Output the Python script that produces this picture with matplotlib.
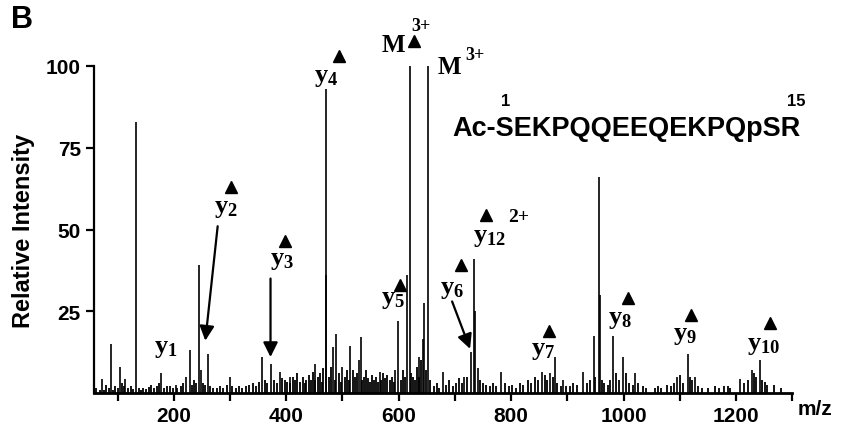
import matplotlib
matplotlib.use("Agg")
import matplotlib.pyplot as plt

plt.rcParams['font.family'] = ['Liberation Sans', 'DejaVu Sans']
plt.rcParams['mathtext.fontset'] = 'custom'
plt.rcParams['mathtext.rm'] = 'Liberation Serif:bold'
plt.rcParams['mathtext.it'] = 'Liberation Serif:bold'
plt.rcParams['mathtext.bf'] = 'Liberation Serif:bold'

# main fragment peaks (m/z, relative intensity)
peak_mz = [73, 88, 104, 114, 132, 178, 203, 222, 228, 244, 248, 260, 300, 357, 372,
           388, 407, 452, 470, 471, 484, 489, 500, 514, 530, 533, 567, 594, 599, 615,
           620, 636, 643, 645, 652, 679, 716, 729, 734, 736, 741, 782, 855, 869, 878,
           892, 928, 947, 956, 958, 981, 999, 1020, 1095, 1114, 1128, 1208, 1228, 1242]
peak_int = [4.3, 15, 8, 4.3, 83, 6, 2.5, 5, 13, 39, 7, 12, 5, 11, 9,
            6.5, 5, 9, 36, 93, 14, 18, 8, 14.5, 10, 17, 6.5, 7, 22, 36,
            100, 11, 16.5, 27.5, 100, 6.5, 5, 12.5, 41, 25, 7.5, 6.5, 6.5, 6, 11,
            4, 6.5, 17.5, 66, 30, 17.5, 11, 6, 5, 12, 5, 4.3, 7, 10]

# small background peaks
noise_mz = [62, 68, 75, 80, 84, 92, 96, 100, 108, 111, 118, 123, 128, 138, 142, 146,
            150, 155, 160, 165, 170, 174, 182, 188, 194, 198,
            206, 212, 216, 232, 236, 240, 252, 256, 265, 270, 276, 282, 288, 294, 304,
            310, 316, 322, 328, 334, 340, 346, 352, 362, 366, 378, 384, 392,
            398, 402, 406, 412, 416, 420, 425, 430, 433, 436, 440, 444, 448, 452, 456,
            460, 463, 466, 476, 480, 486, 494, 498, 504, 508, 511, 518, 522, 526, 535,
            538, 542, 546, 549, 552, 556, 560, 564, 569, 572, 576, 580, 584, 588, 591,
            604, 608, 612, 622, 626, 629, 632, 636, 640, 648, 656,
            662, 668, 672, 684, 690, 696, 702, 708, 712, 722, 745, 750, 756, 762, 768,
            774, 790, 796, 802, 808, 816, 822, 830, 836, 842, 848, 860, 864, 874, 882,
            888, 898,
            904, 910, 918, 935, 940, 950, 962, 966, 972, 976, 986, 992, 1004, 1010,
            1016, 1026, 1034, 1040,
            1056, 1062, 1066, 1078, 1084, 1090, 1100, 1106, 1118, 1122, 1132, 1140,
            1150, 1162, 1170, 1178, 1186, 1190, 1215, 1222, 1232, 1236, 1246, 1252,
            1256, 1268, 1280]
noise_int = [1.5, 1, 1, 2.5, 1.5, 1, 2, 1.5, 3, 2, 1.5, 2, 1.2, 1.5, 1, 1.5,
             1.2, 1.8, 2.5, 1.5, 2, 3, 1.5, 2, 2, 1.5,
             1.5, 2, 3, 2.5, 4, 3, 3, 2.5, 2, 1.5, 1.5, 2, 1.5, 2.5, 2,
             1.5, 2, 1.5, 2, 2.5, 3, 2, 3.5, 4, 3, 4, 3, 4.5,
             4, 3.5, 3, 5, 4, 6, 3.5, 5, 3, 4, 5.5, 4, 6.5, 4, 5,
             6, 3.5, 7.5, 5, 8, 4, 6, 3.5, 5, 7, 4, 7, 5, 6, 4,
             5, 7, 4.5, 3.5, 5.5, 4, 5, 3.5, 4, 6, 4.5, 5.5, 4, 5, 3.5,
             4, 7, 5, 6, 5, 4, 8, 5, 10, 7, 4,
             2, 3, 1.5, 2.5, 4, 2, 3, 4.5, 3, 5, 4, 3, 2.5, 2, 3,
             2, 3, 2, 2.5, 1.5, 3, 2.5, 4, 3, 5, 4, 5.5, 4, 5, 3,
             2, 2,
             2, 3, 2.5, 3, 4, 5, 4, 3, 2.5, 4, 6, 4, 6, 3,
             2.5, 3, 2, 1.5,
             1.5, 2, 1.5, 2.5, 2, 3, 5.5, 3, 5, 4, 2, 1.5,
             1.5, 2, 1.5, 2, 2, 1.5, 3, 4, 6, 5, 4, 3.5,
             2.5, 2.5, 1.5]

y_ticks = [25, 50, 75, 100]
x_major = [200, 400, 600, 800, 1000, 1200]
x_minor = [100, 300, 500, 700, 900, 1100, 1300]

fig = plt.figure(figsize=(8.41, 4.39), dpi=100)
ax = fig.add_axes([94 / 841, 1 - 394 / 439, 701 / 841, 327 / 439])

ax.vlines(noise_mz, 0, noise_int, color='black', lw=1.3)
ax.vlines(peak_mz, 0, peak_int, color='black', lw=1.2)

ax.set_xlim(58, 1305)
ax.set_ylim(0, 100)
ax.spines['top'].set_visible(False)
ax.spines['right'].set_visible(False)
ax.spines['left'].set_linewidth(1.6)
ax.spines['bottom'].set_linewidth(2.0)
ax.spines['bottom'].set_bounds(58, 1300)

ax.set_yticks(y_ticks)
ax.set_xticks(x_major)
ax.set_xticks(x_minor, minor=True)
ax.tick_params(axis='both', which='both', direction='out', length=6, width=1.6,
               labelsize=15)
for lab in ax.get_xticklabels() + ax.get_yticklabels():
    lab.set_fontweight('bold')

ax.set_ylabel('Relative Intensity', fontsize=17, fontweight='bold', labelpad=8)
fig.text(815 / 841, 1 - 410 / 439, 'm/z', fontsize=15, fontweight='bold',
         ha='center', va='center')
fig.text(22 / 841, 1 - 20 / 439, 'B', fontsize=22, fontweight='bold',
         ha='center', va='center')

# ion labels: (text, x, y, triangle x, triangle y)
labels = [
    (r'$\mathrm{y_1}$', 185, 14, None, None),
    (r'$\mathrm{y_2}$', 292, 57, 302, 63),
    (r'$\mathrm{y_3}$', 393, 41, 398, 46.5),
    (r'$\mathrm{y_4}$', 471, 97, 493, 103),
    (r'$\mathrm{y_5}$', 590, 29, 603, 33),
    (r'$\mathrm{y_6}$', 695, 32, 711, 39),
    (r'$\mathrm{y_{12}}$', 762, 48, 755, 54.5),
    (r'$\mathrm{y_7}$', 857, 13.5, 867, 19),
    (r'$\mathrm{y_8}$', 993, 23, 1008, 29),
    (r'$\mathrm{y_9}$', 1109, 18, 1120, 24),
    (r'$\mathrm{y_{10}}$', 1250, 15, 1260, 21.5),
]
for txt, tx, ty, mx, my in labels:
    ax.text(tx, ty, txt, fontsize=19, ha='center', va='center', clip_on=False)
    if mx is not None:
        ax.plot(mx, my, marker='^', ms=9, color='black', clip_on=False)

ax.text(814, 54, '2+', fontsize=14, fontweight='bold', family='Liberation Serif',
        ha='center', va='center')

# precursor labels
ax.text(590, 106.5, 'M', fontsize=18, fontweight='bold', family='Liberation Serif',
        ha='center', va='center', clip_on=False)
ax.plot(628, 107.5, marker='^', ms=8, color='black', clip_on=False)
ax.text(640, 112.5, '3+', fontsize=13, fontweight='bold', family='Liberation Serif',
        ha='center', va='center', clip_on=False)
ax.text(690, 100, 'M', fontsize=18, fontweight='bold', family='Liberation Serif',
        ha='center', va='center', clip_on=False)
ax.text(735, 103.5, '3+', fontsize=13, fontweight='bold', family='Liberation Serif',
        ha='center', va='center', clip_on=False)

# arrows
arrows = [((278, 51), (256, 16)), ((372, 35), (372, 11)), ((695, 28), (727, 13.5))]
for (x0, y0), (x1, y1) in arrows:
    ax.annotate('', xy=(x1, y1), xytext=(x0, y0),
                arrowprops=dict(arrowstyle='-|>', color='black', lw=1.6,
                                mutation_scale=22, shrinkA=0, shrinkB=0))

# peptide sequence
ax.text(695, 81, 'Ac-SEKPQQEEQEKPQpSR', fontsize=19.5, fontweight='bold',
        ha='left', va='center')
ax.text(791, 89.5, '1', fontsize=12, fontweight='bold', ha='center', va='center')
ax.text(1308, 89.5, '15', fontsize=12, fontweight='bold', ha='center', va='center')

fig.savefig('out.png', dpi=100)
